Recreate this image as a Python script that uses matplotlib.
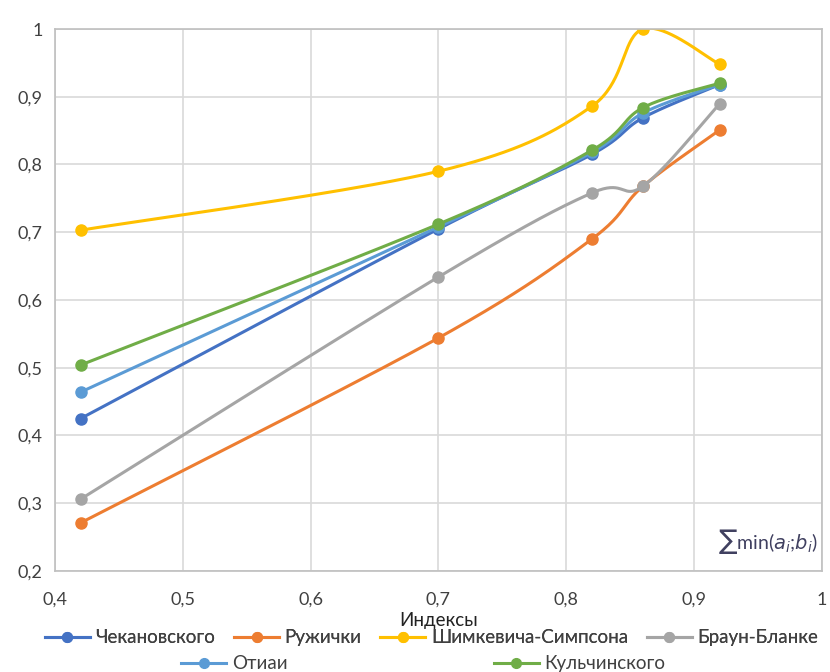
import numpy as np
import matplotlib
matplotlib.use("Agg")
import matplotlib.pyplot as plt
from matplotlib.lines import Line2D

plt.rcParams['font.family'] = ['Lato', 'DejaVu Sans']

x = [0.42, 0.70, 0.82, 0.86, 0.92]

names = ["Чекановского", "Ружички", "Шимкевича-Симпсона", "Браун-Бланке",
         "Отиаи", "Кульчинского"]
chekanovsky = [0.425, 0.705, 0.815, 0.869, 0.918]
ruzhichka = [0.271, 0.544, 0.690, 0.768, 0.851]
simpson = [0.703, 0.790, 0.886, 1.000, 0.948]
braun = [0.306, 0.634, 0.758, 0.768, 0.890]
otiai = [0.464, 0.708, 0.818, 0.876, 0.918]
kulch = [0.504, 0.712, 0.821, 0.884, 0.920]
series = [chekanovsky, ruzhichka, simpson, braun, otiai, kulch]
colors = ["#4472C4", "#ED7D31", "#FFC000", "#A5A5A5", "#5B9BD5", "#70AD47"]


def smooth(xs, ys, n=40):
    # Excel-like bezier smoothing
    p = np.column_stack([xs, ys])
    pts = np.vstack([p[0], p, p[-1]])
    out = []
    for i in range(1, len(pts) - 2):
        p0, p1, p2, p3 = pts[i - 1], pts[i], pts[i + 1], pts[i + 2]
        c1 = p1 + (p2 - p0) / 6
        c2 = p2 - (p3 - p1) / 6
        t = np.linspace(0, 1, n)[:, None]
        b = ((1 - t) ** 3) * p1 + 3 * ((1 - t) ** 2) * t * c1 + 3 * (1 - t) * t ** 2 * c2 + t ** 3 * p2
        out.append(b)
    out = np.vstack(out)
    return out[:, 0], out[:, 1]


fig = plt.figure(figsize=(8.3, 6.72), dpi=100)
ax = fig.add_axes([55 / 830, 1 - 571 / 672, 767 / 830, 542 / 672])

for ys, c in zip(series, colors):
    sx, sy = smooth(x, ys)
    ax.plot(sx, sy, color=c, lw=2.2, solid_capstyle='round')
    ax.plot(x, ys, 'o', color=c, ms=8)

ax.set_xlim(0.4, 1.0)
ax.set_ylim(0.2, 1.0)
ax.set_xticks(np.arange(0.4, 1.01, 0.1))
ax.set_yticks(np.arange(0.2, 1.01, 0.1))
fmt = lambda v: ("%g" % round(v, 1)).replace('.', ',')
ax.set_xticklabels([fmt(v) for v in ax.get_xticks()])
ax.set_yticklabels([fmt(v) for v in ax.get_yticks()])
ax.grid(True, color="#D9D9D9", lw=1.2)
ax.set_axisbelow(True)
for s in ax.spines.values():
    s.set_color("#BFBFBF")
    s.set_linewidth(1.2)
ax.tick_params(axis='x', length=0, labelsize=13, colors="#404040", pad=15)
ax.tick_params(axis='y', length=0, labelsize=13, colors="#404040", pad=9)
ax.set_xlabel("Индексы", fontsize=13.5, color="#222222", labelpad=3)

ax.text(0.995, 0.055, r"$\sum$min($a_i$;$b_i$)", transform=ax.transAxes,
        ha='right', va='center', fontsize=14, color="#404060")

handles = [Line2D([0], [0], color=c, lw=2.2, marker='o', ms=7) for c in colors]
leg1 = fig.legend(handles[:4], names[:4], loc='center', bbox_to_anchor=(0.52, 0.051),
                  ncol=4, frameon=False, fontsize=13.5, handlelength=2.4,
                  handletextpad=0.3, columnspacing=1.0, labelcolor="#404040")
fig.add_artist(leg1)
fig.legend(handles[4:], names[4:], loc='center', bbox_to_anchor=(0.51, 0.012),
           ncol=2, frameon=False, fontsize=13.5, handlelength=2.4,
           handletextpad=0.3, columnspacing=11.0, labelcolor="#404040")

fig.savefig("out.png", dpi=100)
